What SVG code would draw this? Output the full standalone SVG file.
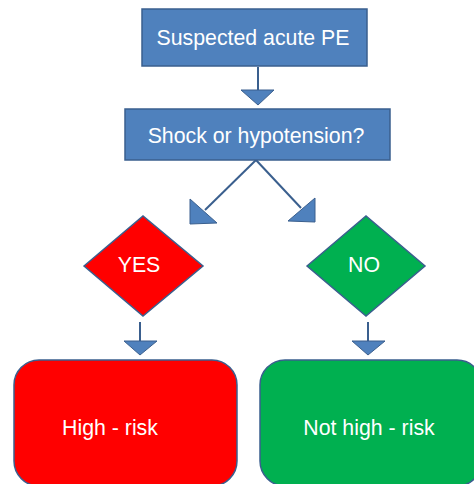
<svg xmlns="http://www.w3.org/2000/svg" width="474" height="484" viewBox="0 0 474 484">
<style>
.blue{fill:#4F81BD;stroke:#3A5F8E;stroke-width:1.5}
.red{fill:#FF0000;stroke:#3A5F8E;stroke-width:1.5}
.green{fill:#00B050;stroke:#3A5F8E;stroke-width:1.5}
.t{font-family:"Liberation Sans",Arial,sans-serif;font-size:21.3px;fill:#FFFFFF;text-anchor:middle}
.ln{stroke:#3A5F8E;stroke-width:2;fill:none}
.hd{fill:#4F81BD;stroke:#3A5F8E;stroke-width:1}
</style>
<rect width="474" height="484" fill="#FFFFFF"/>
<g id="connectors">
<line class="ln" x1="258" y1="67" x2="258" y2="91"/>
<polygon class="hd" points="241,90 274,90 258,105"/>
<line class="ln" x1="256" y1="160" x2="205" y2="210"/>
<polygon class="hd" points="190,199 217,223 190,224"/>
<line class="ln" x1="256" y1="160" x2="301" y2="208"/>
<polygon class="hd" points="315,198 288,221 315,222"/>
<line class="ln" x1="140" y1="322" x2="140" y2="342"/>
<polygon class="hd" points="124,341 157,341 140,355"/>
<line class="ln" x1="368" y1="322" x2="368" y2="342"/>
<polygon class="hd" points="352,341 385,341 368,355"/>
</g>
<g id="n1">
<rect class="blue" x="142" y="9" width="225" height="57"/>
<text class="t" x="253" y="45">Suspected acute PE</text>
</g>
<g id="n2">
<rect class="blue" x="125" y="109" width="265" height="51"/>
<text class="t" x="256" y="143">Shock or hypotension?</text>
</g>
<g id="yes">
<polygon class="red" points="84,266 143,216 203,266 143,316"/>
<text class="t" x="139" y="272">YES</text>
</g>
<g id="no">
<polygon class="green" points="307,266 366,216 425,266 366,316"/>
<text class="t" x="364" y="272">NO</text>
</g>
<g id="high">
<rect class="red" x="14" y="360" width="223" height="126" rx="25"/>
<text class="t" x="110" y="435">High - risk</text>
</g>
<g id="nothigh">
<rect class="green" x="260" y="360" width="222" height="126" rx="25"/>
<text class="t" x="369" y="435">Not high - risk</text>
</g>
</svg>
